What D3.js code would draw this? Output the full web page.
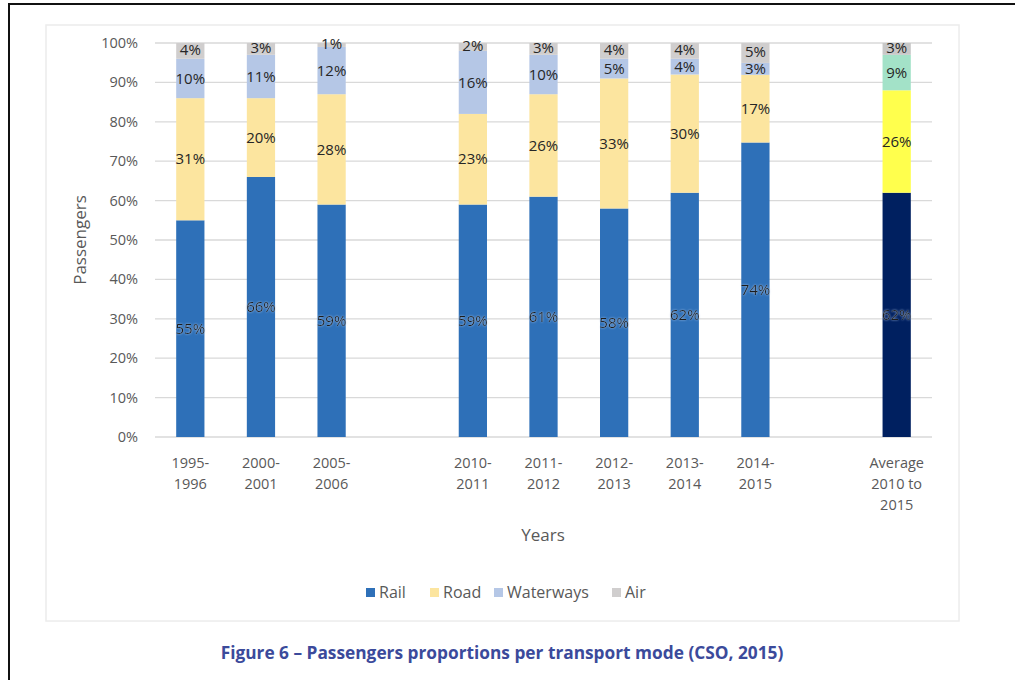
<!DOCTYPE html>
<html>
<head>
<meta charset="utf-8">
<script src="https://cdn.jsdelivr.net/npm/d3@7"></script>
<style>
  body { margin: 0; background: #fff; }
  svg text { font-family: "Open Sans", Lato, sans-serif; }
</style>
</head>
<body>
<div id="chart"></div>
<script>
// Categories (empty slots keep the gaps between groups)
var categories = ["1995-1996", "2000-2001", "2005-2006", "gap1",
                  "2010-2011", "2011-2012", "2012-2013", "2013-2014", "2014-2015",
                  "gap2", "Average"];
var tickLabels = [["1995-", "1996"], ["2000-", "2001"], ["2005-", "2006"], [],
                  ["2010-", "2011"], ["2011-", "2012"], ["2012-", "2013"], ["2013-", "2014"], ["2014-", "2015"],
                  [], ["Average", "2010 to", "2015"]];
var modes = ["Rail", "Road", "Waterways", "Air"];

// Percent values per mode (null = empty slot)
var rail      = [55, 66, 59, null, 59, 61, 58, 62, 74, null, 62];
var road      = [31, 20, 28, null, 23, 26, 33, 30, 17, null, 26];
var waterways = [10, 11, 12, null, 16, 10,  5,  4,  3, null,  9];
var air       = [ 4,  3,  1, null,  2,  3,  4,  4,  5, null,  3];

var colors    = ["#2e70b8", "#fce59f", "#b5c7e6", "#d0cece"];
var avgColors = ["#002060", "#ffff4d", "#a3e2c8", "#c8c8c8"];

var width = 1015, height = 680;
var margin = { left: 155, right: 83, top: 43, bottom: 243 };
var plotW = width - margin.left - margin.right,
    plotH = height - margin.top - margin.bottom;

var rows = categories.map(function(c, i) {
  return { cat: c, Rail: rail[i] || 0, Road: road[i] || 0, Waterways: waterways[i] || 0, Air: air[i] || 0, empty: rail[i] == null };
});

var svg = d3.select("#chart").append("svg")
  .attr("width", width).attr("height", height);

// soft glow behind the labels on the rail segments
var glow = svg.append("defs").append("filter").attr("id", "glow")
  .attr("x", "-20%").attr("y", "-30%").attr("width", "140%").attr("height", "160%");
glow.append("feGaussianBlur").attr("in", "SourceAlpha").attr("stdDeviation", 1.3).attr("result", "b");
glow.append("feFlood").attr("flood-color", "#b8cdea").attr("flood-opacity", 0.9);
glow.append("feComposite").attr("in2", "b").attr("operator", "in").attr("result", "c");
var merge = glow.append("feMerge");
merge.append("feMergeNode").attr("in", "c");
merge.append("feMergeNode").attr("in", "SourceGraphic");

// page frame
svg.append("line").attr("x1", 9).attr("x2", 9).attr("y1", 3).attr("y2", height)
  .attr("stroke", "#111").attr("stroke-width", 2);
svg.append("line").attr("x1", 8).attr("x2", width).attr("y1", 4).attr("y2", 4)
  .attr("stroke", "#111").attr("stroke-width", 2);
// chart area border
svg.append("rect").attr("x", 46).attr("y", 25).attr("width", 913).attr("height", 596)
  .attr("fill", "none").attr("stroke", "#ececec").attr("stroke-width", 1.5);

var g = svg.append("g").attr("transform", "translate(" + margin.left + "," + margin.top + ")");

var x = d3.scaleBand().domain(categories).range([0, plotW]).paddingInner(0.6).paddingOuter(0.3);
var y = d3.scaleLinear().domain([0, 1]).range([plotH, 0]);

// gridlines + y labels
var yTicks = d3.range(0, 1.01, 0.1);
g.selectAll(".grid").data(yTicks).enter().append("line")
  .attr("x1", 0).attr("x2", plotW)
  .attr("y1", function(d) { return y(d); }).attr("y2", function(d) { return y(d); })
  .attr("stroke", "#d9d9d9").attr("stroke-width", 1.3);
g.selectAll(".ylab").data(yTicks).enter().append("text")
  .attr("x", -17).attr("y", function(d) { return y(d); }).attr("dy", "0.35em")
  .attr("text-anchor", "end").attr("font-size", 14.5).attr("fill", "#595959")
  .text(d3.format(".0%"));

var stack = d3.stack().keys(modes).offset(d3.stackOffsetExpand);
var series = stack(rows.filter(function(r) { return !r.empty; }));

series.forEach(function(s, k) {
  var layer = g.append("g");
  layer.selectAll("rect").data(s).enter().append("rect")
    .attr("x", function(d) { return x(d.data.cat); })
    .attr("width", x.bandwidth())
    .attr("y", function(d) { return y(d[1]); })
    .attr("height", function(d) { return y(d[0]) - y(d[1]); })
    .attr("fill", function(d) { return d.data.cat === "Average" ? avgColors[k] : colors[k]; });
});

// data labels
series.forEach(function(s, k) {
  g.append("g").selectAll("text").data(s).enter().append("text")
    .attr("x", function(d) { return x(d.data.cat) + x.bandwidth() / 2; })
    .attr("y", function(d) { return y((d[0] + d[1]) / 2) - (k === 3 ? 1 : 0); })
    .attr("dy", "0.35em").attr("text-anchor", "middle")
    .attr("font-size", 15).attr("fill", k === 0 ? "#1a1a1a" : "#262626")
    .attr("filter", k === 0 ? "url(#glow)" : null)
    .text(function(d) { return d.data[modes[k]] + "%"; });
});

// x tick labels
var xl = g.append("g").attr("transform", "translate(0," + plotH + ")");
categories.forEach(function(c, i) {
  var t = xl.append("text").attr("text-anchor", "middle").attr("font-size", 14.5).attr("fill", "#595959")
    .attr("transform", "translate(" + (x(c) + x.bandwidth() / 2) + ",31)");
  tickLabels[i].forEach(function(line, j) {
    t.append("tspan").attr("x", 0).attr("y", j * 21).text(line);
  });
});

// axis titles
svg.append("text").attr("transform", "translate(86,240) rotate(-90)")
  .attr("text-anchor", "middle").attr("font-size", 17).attr("fill", "#595959").text("Passengers");
svg.append("text").attr("x", 543).attr("y", 541)
  .attr("text-anchor", "middle").attr("font-size", 17).attr("fill", "#595959").text("Years");

// legend
var legendX = [366, 430, 494, 612];
var legend = svg.append("g");
modes.forEach(function(m, k) {
  legend.append("rect").attr("x", legendX[k]).attr("y", 588).attr("width", 9).attr("height", 9)
    .attr("fill", colors[k]);
  legend.append("text").attr("x", legendX[k] + 13).attr("y", 592.5).attr("dy", "0.35em")
    .attr("font-size", 16).attr("fill", "#595959").text(m);
});

// caption
svg.append("text").attr("x", 502).attr("y", 659).attr("text-anchor", "middle")
  .attr("font-size", 17.3).attr("font-weight", "bold").attr("fill", "#3b4a9b")
  .text("Figure 6 – Passengers proportions per transport mode (CSO, 2015)");
</script>
</body>
</html>
